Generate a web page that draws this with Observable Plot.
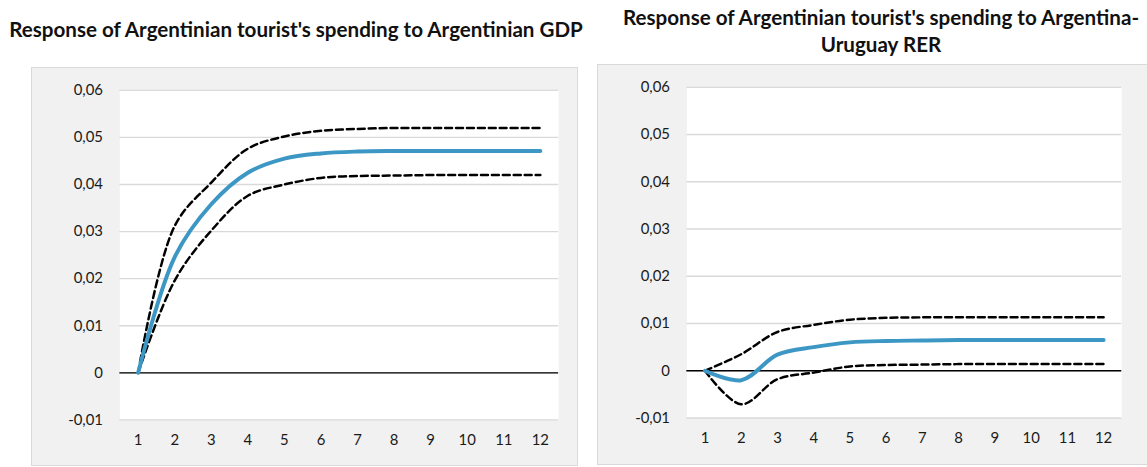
<!DOCTYPE html>
<html>
<head>
<meta charset="utf-8">
<script src="https://cdn.jsdelivr.net/npm/d3@7"></script>
<script src="https://cdn.jsdelivr.net/npm/@observablehq/plot@0.6"></script>
<style>
  html, body { margin: 0; padding: 0; background: #ffffff; }
  body { position: relative; width: 1147px; height: 467px; overflow: hidden; font-family: Lato, "Open Sans", sans-serif; }
  .title { position: absolute; font-weight: 700; font-size: 20.6px; color: #111; text-align: center; line-height: 27px; white-space: nowrap; }
  .panel { position: absolute; box-sizing: border-box; background: #f1f1f1; border: 1px solid #d9d9d9; }
  .panel svg { position: absolute; left: -1px; top: -1px; }
</style>
</head>
<body>
<div class="title" id="title-gdp" style="left:0; width:592px; top:16px;"></div>
<div class="title" id="title-rer" style="left:600px; width:562px; top:4px;"></div>
<div class="panel" id="panel-gdp" style="left:31px; top:67px; width:547px; height:399px;"></div>
<div class="panel" id="panel-rer" style="left:597px; top:64px; width:560px; height:401px;"></div>
<script>
// Impulse-response horizon (periods after the shock)
const periods = [1, 2, 3, 4, 5, 6, 7, 8, 9, 10, 11, 12];

// Response to Argentinian GDP: point estimate and confidence bands
const gdpResponse = [0, 0.0246, 0.0358, 0.0425, 0.0455, 0.0466, 0.0470, 0.0471, 0.0471, 0.0471, 0.0471, 0.0471];
const gdpUpper    = [0, 0.0312, 0.0404, 0.0476, 0.0502, 0.0514, 0.0518, 0.0520, 0.0520, 0.0520, 0.0520, 0.0520];
const gdpLower    = [0, 0.0196, 0.0302, 0.0376, 0.0400, 0.0414, 0.0418, 0.0419, 0.0420, 0.0420, 0.0420, 0.0420];

// Response to the Argentina-Uruguay real exchange rate
const rerResponse = [0, -0.0020, 0.0034, 0.0050, 0.0060, 0.0063, 0.0064, 0.0065, 0.0065, 0.0065, 0.0065, 0.0065];
const rerUpper    = [0, 0.0035, 0.0082, 0.0097, 0.0108, 0.0112, 0.0113, 0.0113, 0.0113, 0.0113, 0.0113, 0.0113];
const rerLower    = [0, -0.0071, -0.0018, -0.0004, 0.0009, 0.0012, 0.0013, 0.0014, 0.0014, 0.0014, 0.0014, 0.0014];

// Value axis ticks
const yTicks = [-0.01, 0, 0.01, 0.02, 0.03, 0.04, 0.05, 0.06];

const titles = {
  gdp: ["Response of Argentinian tourist's spending to Argentinian GDP"],
  rer: ["Response of Argentinian tourist's spending to Argentina-", "Uruguay RER"]
};

const commaFormat = d => d === 0 ? "0" : d3.format(".2f")(d).replace(".", ",").replace("\u2212", "-");

function responseChart(response, upper, lower, size) {
  const rows = periods.map((p, i) => ({p, response: response[i], upper: upper[i], lower: lower[i]}));
  return Plot.plot({
    width: size.width,
    height: size.height,
    marginLeft: size.marginLeft,
    marginRight: size.marginRight,
    marginTop: size.marginTop,
    marginBottom: size.marginBottom,
    style: {background: "transparent", fontFamily: "Lato, 'Open Sans', sans-serif", fontSize: "15px", color: "#1a1a1a", overflow: "visible"},
    // categories sit in the middle of equal-width slots, half a slot in from each edge
    x: {type: "linear", domain: [0.5, periods.length + 0.5], label: null},
    y: {domain: [-0.01, 0.06], label: null},
    marks: [
      Plot.frame({fill: "white", stroke: null}),
      Plot.gridY(yTicks, {stroke: "#d9d9d9", strokeOpacity: 1, strokeWidth: 1.4}),
      Plot.ruleY([0], {stroke: "#000", strokeWidth: 1.4}),
      Plot.axisY(yTicks, {tickFormat: commaFormat, tickSize: 0, tickPadding: 17, label: null}),
      Plot.axisX(periods, {tickFormat: d => String(d), tickSize: 0, tickPadding: 15, label: null}),
      Plot.line(rows, {x: "p", y: "upper", curve: "catmull-rom", stroke: "#000", strokeWidth: 2.5, strokeDasharray: "7,4"}),
      Plot.line(rows, {x: "p", y: "lower", curve: "catmull-rom", stroke: "#000", strokeWidth: 2.5, strokeDasharray: "7,4"}),
      Plot.line(rows, {x: "p", y: "response", curve: "catmull-rom", stroke: "#3d97c4", strokeWidth: 4, strokeLinecap: "round"})
    ]
  });
}

document.getElementById("title-gdp").innerHTML = titles.gdp.join("<br>");
document.getElementById("title-rer").innerHTML = titles.rer.join("<br>");

document.getElementById("panel-gdp").append(
  responseChart(gdpResponse, gdpUpper, gdpLower, {width: 549, height: 401, marginLeft: 89, marginRight: 18, marginTop: 23, marginBottom: 46})
);
document.getElementById("panel-rer").append(
  responseChart(rerResponse, rerUpper, rerLower, {width: 562, height: 403, marginLeft: 90, marginRight: 34, marginTop: 23, marginBottom: 47})
);
</script>
</body>
</html>
